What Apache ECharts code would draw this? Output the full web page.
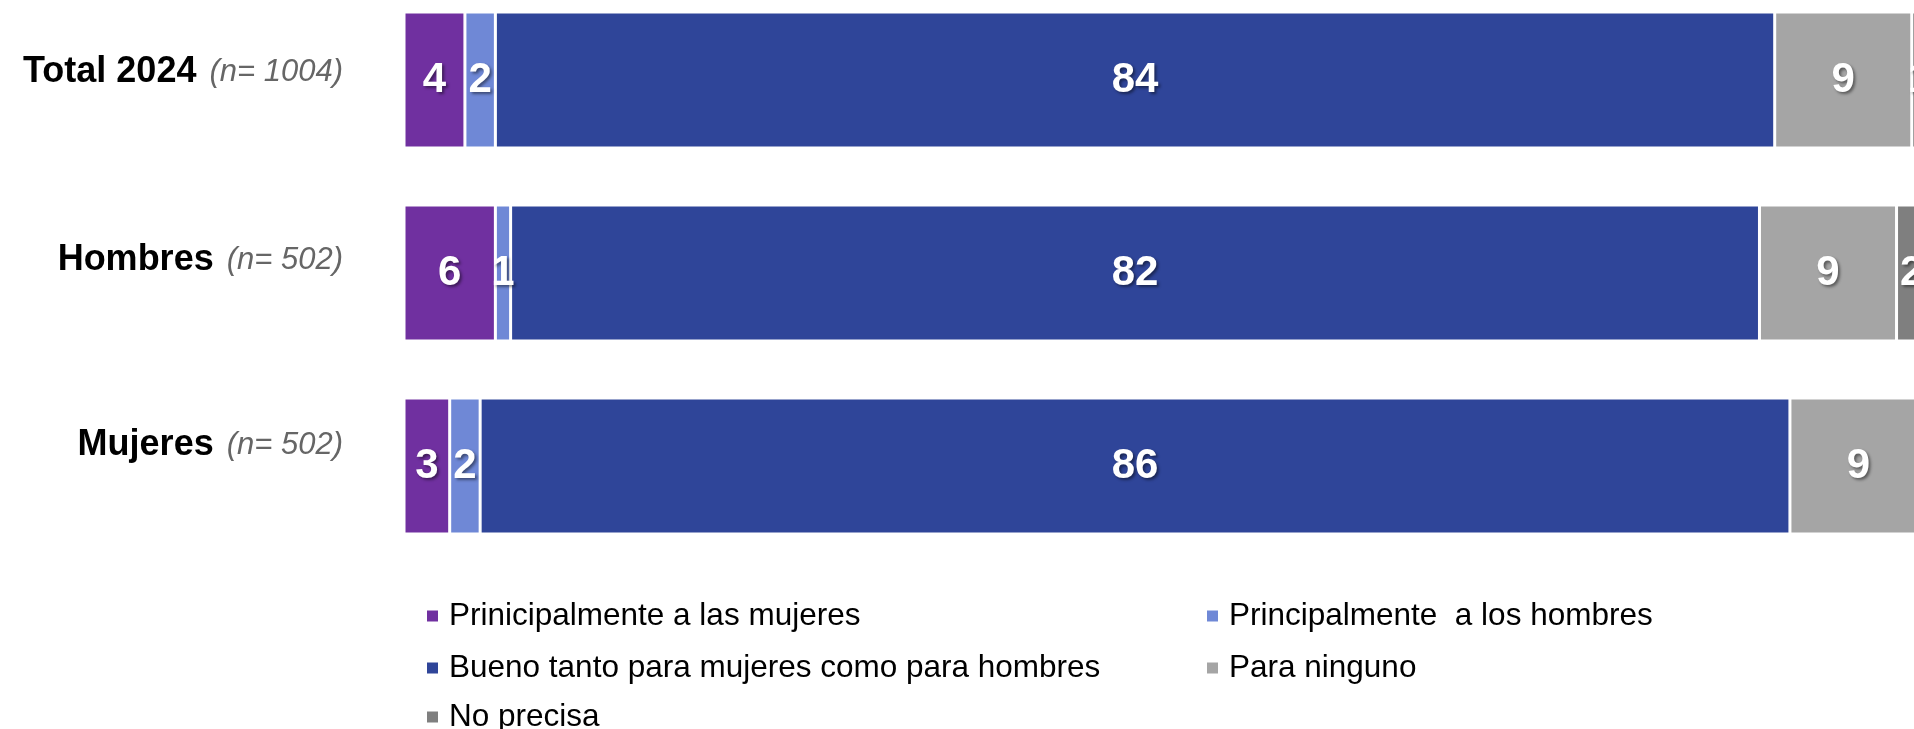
<!DOCTYPE html>
<html>
<head>
<meta charset="utf-8">
<script src="https://cdn.jsdelivr.net/npm/echarts@6/dist/echarts.min.js"></script>
<style>
  html, body { margin: 0; padding: 0; background: #fff; }
  #barChart { width: 1914px; height: 729px; }
</style>
</head>
<body>
<div id="barChart"></div>
<script>
// categories (top to bottom) and sample sizes
var groups = ['Total 2024', 'Hombres', 'Mujeres'];
var sampleSizes = ['1004', '502', '502'];

// series values, percent
var mujeresVals = [4, 6, 3];
var hombresVals = [2, 1, 2];
var ambosVals = [84, 82, 86];
var ningunoVals = [9, 9, 9];
var noPrecisaVals = [1, 2, 0];

var seriesNames = [
    'Prinicipalmente a las mujeres',
    'Principalmente  a los hombres',
    'Bueno tanto para mujeres como para hombres',
    'Para ninguno',
    'No precisa'
];
var seriesColors = ['#7030A0', '#6F88D6', '#2F4599', '#A5A5A5', '#7F7F7F'];
var seriesData = [mujeresVals, hombresVals, ambosVals, ningunoVals, noPrecisaVals];

// layout bits: legend slots [left, top], and how far each row label sits above its bar centre
var legendPos = [[425, 600], [1205, 600], [425, 652], [1205, 652], [425, 701]];
var labelLift = [8, 13, 21];

var font = 'Arial, "Liberation Sans", sans-serif';

var myChart = echarts.init(document.getElementById('barChart'));

var series = seriesNames.map(function (name, i) {
    return {
        name: name,
        type: 'bar',
        stack: 'total',
        barWidth: 136,
        data: seriesData[i],
        itemStyle: {
            color: seriesColors[i],
            borderColor: '#fff',
            borderWidth: 1.5
        },
        label: {
            show: true,
            position: 'inside',
            color: '#fff',
            fontFamily: font,
            fontWeight: 'bold',
            fontSize: 42,
            textShadowColor: 'rgba(0,0,0,0.45)',
            textShadowBlur: 3,
            textShadowOffsetX: 2,
            textShadowOffsetY: 2,
            formatter: function (p) { return p.value > 0 ? p.value : ''; }
        }
    };
});

var legends = seriesNames.map(function (name, i) {
    return {
        left: legendPos[i][0],
        top: legendPos[i][1],
        padding: 0,
        itemWidth: 13,
        itemHeight: 13,
        icon: 'rect',
        data: [name],
        textStyle: {
            fontFamily: font,
            fontSize: 31.5,
            lineHeight: 32,
            color: '#000',
            padding: [0, 0, 0, 5]
        }
    };
});

var rich = {
    b: { fontFamily: font, fontWeight: 'bold', fontSize: 36, color: '#000' },
    s: { fontSize: 36, width: 13 },
    n: { fontFamily: font, fontStyle: 'italic', fontSize: 31, color: '#666' }
};
labelLift.forEach(function (lift, i) {
    rich['g' + i] = { fontSize: 1, height: lift * 2 };
});

var option = {
    animation: false,
    grid: {
        left: 404,
        top: -16.5,
        width: 1523,
        height: 579,
        outerBoundsMode: 'none'
    },
    xAxis: {
        type: 'value',
        min: 0,
        max: 100,
        show: false
    },
    yAxis: {
        type: 'category',
        inverse: true,
        data: groups,
        axisLine: { show: false },
        axisTick: { show: false },
        axisLabel: {
            margin: 61,
            formatter: function (v, idx) {
                return '{b|' + v + '}{s| }{n|(n= ' + sampleSizes[idx] + ')}\n{g' + idx + '| }';
            },
            rich: rich
        }
    },
    legend: legends,
    series: series
};

myChart.setOption(option);
</script>
</body>
</html>
